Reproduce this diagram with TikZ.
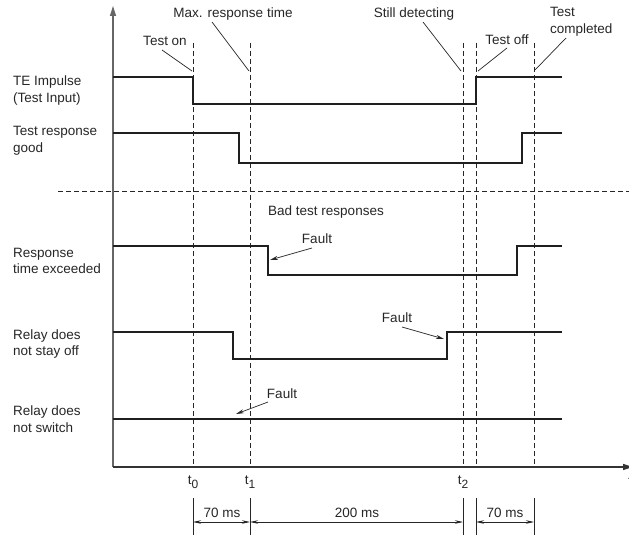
\documentclass[tikz,border=0pt]{standalone}
\usepackage{fontspec}
\setmainfont{Liberation Sans}
\usetikzlibrary{arrows.meta}
\begin{document}
\begin{tikzpicture}[x=1pt,y=-1pt,
  sig/.style={line width=2pt, black!88, line join=miter},
  vdash/.style={dash pattern=on 5pt off 3pt, line width=0.8pt, black!85},
  axis/.style={line width=1.3pt, black!60},
  lead/.style={line width=0.7pt, black!85},
  fault/.style={line width=0.7pt, black!85, -{Stealth[length=8pt,width=4pt]}},
  dim/.style={line width=0.7pt, black!85, {Stealth[length=8pt,width=3.5pt]}-{Stealth[length=8pt,width=3.5pt]}},
  tick/.style={line width=0.8pt, black!85},
  lbl/.style={font=\fontsize{13.5}{16.8}\selectfont, inner sep=0pt, align=left, text=black!85}]
\useasboundingbox (0,0) rectangle (629,535);

% axes
\coordinate (O) at (113,467);
\coordinate (Ytop) at (113,6);
\coordinate (Xend) at (633,467);
\draw[axis, -{Triangle[length=10pt,width=6pt]}] (O) -- (Ytop);
\draw[axis, black!80, -{Triangle[length=10pt,width=6pt]}] (O) -- (Xend);
\node[lbl, anchor=west] (tlab) at (628,481) {t};

% time markers (dashed)
\foreach \n/\x in {T0/193, T1/250, T2a/463, T2b/476, T3/534}{
  \coordinate (\n top) at (\x,43);
  \coordinate (\n bot) at (\x,467);
  \draw[vdash] (\n top) -- (\n bot);
}
% separator
\coordinate (Sl) at (58,191);
\coordinate (Sr) at (629,191);
\draw[vdash] (Sl) -- (Sr);

% row labels
\node[lbl, anchor=west] (lTE) at (13,90.5) {TE Impulse\\(Test Input)};
\node[lbl, anchor=west] (lTR) at (13,140.5) {Test response\\good};
\node[lbl] (lBad) at (326,212) {Bad test responses};
\node[lbl, anchor=west] (lRT) at (13,261) {Response\\time exceeded};
\node[lbl, anchor=west] (lSO) at (13,344) {Relay does\\not stay off};
\node[lbl, anchor=west] (lNS) at (13,419) {Relay does\\not switch};

% signals
\draw[sig] (113,77) -| (193,104) -| (476,77) -- (562,77);
\draw[sig] (113,133) -| (239,163) -| (522,133) -- (562,133);
\draw[sig] (113,246) -| (268,275) -| (517,246) -- (562,246);
\draw[sig] (113,332) -| (233,359) -| (447,332) -- (562,332);
\draw[sig] (113,419) -- (562,419);

% top annotations
\node[lbl] (aOn) at (165,41) {Test on};
\node[lbl] (aMax) at (233,14) {Max. response time};
\node[lbl] (aStill) at (414,14) {Still detecting};
\node[lbl] (aOff) at (507,40) {Test off};
\node[lbl, anchor=west] (aDone) at (550,22) {Test\\completed};
\coordinate (aOn s) at (162,50);   \coordinate (aOn e) at (192,71);
\coordinate (aMax s) at (212,22);  \coordinate (aMax e) at (249,71);
\coordinate (aStill s) at (423,22);\coordinate (aStill e) at (461,71);
\coordinate (aOff s) at (507,48);  \coordinate (aOff e) at (478,71);
\coordinate (aDone s) at (566,38); \coordinate (aDone e) at (535,70);
\foreach \n in {aOn,aMax,aStill,aOff,aDone}{\draw[lead] (\n\space s) -- (\n\space e);}

% fault annotations
\node[lbl] (f1) at (317,239) {Fault};
\node[lbl] (f2) at (397,318) {Fault};
\node[lbl] (f3) at (282,394) {Fault};
\coordinate (f1 s) at (312,248); \coordinate (f1 e) at (270,260);
\coordinate (f2 s) at (402,327); \coordinate (f2 e) at (444,339);
\coordinate (f3 s) at (268,402); \coordinate (f3 e) at (236,414);
\draw[fault] (f1 s) -- (f1 e);
\draw[fault] (f2 s) -- (f2 e);
\draw[fault] (f3 s) -- (f3 e);

% time labels
\node[lbl] (t0) at (193,482) {t\raisebox{-4pt}{\fontsize{12}{12}\selectfont 0}};
\node[lbl] (t1) at (250,482) {t\raisebox{-4pt}{\fontsize{12}{12}\selectfont 1}};
\node[lbl] (t2) at (463,482) {t\raisebox{-4pt}{\fontsize{12}{12}\selectfont 2}};

% dimension ticks
\foreach \n/\x in {d0/193, d1/250, d2/463, d3/476, d4/534}{
  \coordinate (\n a) at (\x,498);
  \coordinate (\n b) at (\x,536);
  \draw[tick] (\n a) -- (\n b);
}
\coordinate (m0) at (193,522); \coordinate (m1) at (250,522);
\coordinate (m2) at (463,522); \coordinate (m3) at (476,522);
\coordinate (m4) at (534,522);
\draw[dim] (m0) -- (m1);
\draw[dim] (m1) -- (m2);
\draw[dim] (m3) -- (m4);
\node[lbl] (w1) at (222,513) {70 ms};
\node[lbl] (w2) at (357,513) {200 ms};
\node[lbl] (w3) at (505,513) {70 ms};
\end{tikzpicture}
\end{document}
